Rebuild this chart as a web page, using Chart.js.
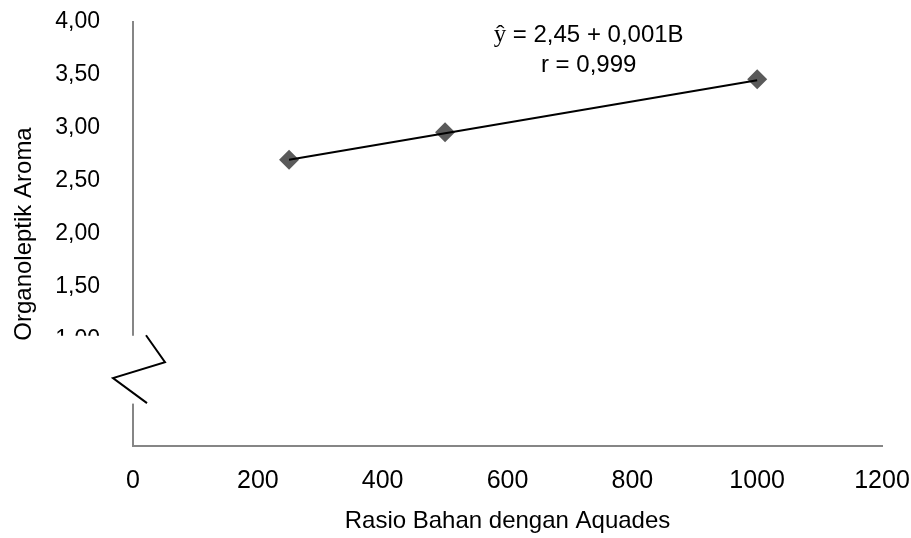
<!DOCTYPE html>
<html>
<head>
<meta charset="utf-8">
<script src="https://cdn.jsdelivr.net/npm/chart.js@4"></script>
<style>
  body { margin: 0; background: #fff; }
  canvas { display: block; }
</style>
</head>
<body>
<canvas id="aromaChart" width="911" height="538"></canvas>
<script>
// ---------- DATA ----------
const ratioValues = [250, 500, 1000];
const aromaValues = [2.70, 2.96, 3.46];
const trendX = [250, 1000];
const trendY = [2.70, 3.45];
const equationText = " = 2,45 + 0,001B";
const rText = "r = 0,999";

const SANS = "'Liberation Sans', Arial, sans-serif";

// white gap + zigzag on the y axis, and the regression label
const breakPlugin = {
  id: "axisBreak",
  afterDraw(chart) {
    const { ctx, chartArea, scales } = chart;
    const y = scales.y, x = scales.x;
    const left = chartArea.left;
    const top = y.getPixelForValue(1.04);
    const bottom = y.getPixelForValue(0.40);

    ctx.save();
    ctx.fillStyle = "#fff";
    ctx.fillRect(45, top, left + 40 - 45, bottom - top);

    ctx.strokeStyle = "#000";
    ctx.lineWidth = 2;
    ctx.beginPath();
    ctx.moveTo(left + 13, y.getPixelForValue(1.045));
    ctx.lineTo(left + 32, y.getPixelForValue(0.79));
    ctx.lineTo(left - 20, y.getPixelForValue(0.64));
    ctx.lineTo(left + 14, y.getPixelForValue(0.405));
    ctx.stroke();

    // equation label
    const cx = x.getPixelForValue(730);
    const y1 = y.getPixelForValue(3.81);
    const y2 = y.getPixelForValue(3.53);
    ctx.fillStyle = "#000";
    ctx.textBaseline = "alphabetic";
    ctx.font = "24px " + SANS;
    const restW = ctx.measureText(equationText).width;
    ctx.font = "25px 'Liberation Serif', serif";
    const hatW = ctx.measureText("ŷ").width;
    const start = cx - (restW + hatW) / 2;
    ctx.textAlign = "left";
    ctx.fillText("ŷ", start, y1);
    ctx.font = "24px " + SANS;
    ctx.fillText(equationText, start + hatW, y1);
    ctx.textAlign = "center";
    ctx.fillText(rText, cx, y2);
    ctx.restore();
  },
};

new Chart(document.getElementById("aromaChart"), {
  type: "scatter",
  data: {
    datasets: [
      {
        label: "Trend",
        data: trendX.map((v, i) => ({ x: v, y: trendY[i] })),
        showLine: true,
        borderColor: "#000",
        borderWidth: 2,
        pointRadius: 0,
        order: 0,
      },
      {
        label: "Aroma",
        data: ratioValues.map((v, i) => ({ x: v, y: aromaValues[i] })),
        pointStyle: "rectRot",
        pointRadius: 10,
        pointBackgroundColor: "#5a5a5a",
        pointBorderWidth: 0,
        order: 1,
      },
    ],
  },
  options: {
    responsive: false,
    animation: false,
    layout: { padding: { top: 22, right: 29, bottom: 0, left: 0 } },
    plugins: { legend: { display: false }, tooltip: { enabled: false } },
    scales: {
      x: {
        type: "linear",
        min: 0,
        max: 1200,
        afterFit: (s) => {
          s.height = 92;
          s.paddingLeft = 0;
          s.paddingRight = 0;
        },
        grid: { color: "transparent", drawTicks: false },
        border: { color: "#868686", width: 2 },
        ticks: {
          stepSize: 200,
          padding: 20,
          color: "#000",
          font: { family: SANS, size: 25 },
          callback: (v) => String(v),
        },
        title: {
          display: true,
          text: "Rasio Bahan dengan Aquades",
          color: "#000",
          font: { family: SANS, size: 24 },
          padding: { top: 0, bottom: 2 },
        },
      },
      y: {
        min: 0,
        max: 4,
        afterFit: (s) => {
          s.width = 133;
          s.paddingTop = 0;
          s.paddingBottom = 0;
        },
        grid: { color: "transparent", drawTicks: false },
        border: { color: "#868686", width: 2 },
        ticks: {
          stepSize: 0.5,
          padding: 33,
          color: "#000",
          font: { family: SANS, size: 23 },
          callback: (v) => (v >= 1 ? v.toFixed(2).replace(".", ",") : ""),
        },
        title: {
          display: true,
          text: "Organoleptik Aroma",
          color: "#000",
          font: { family: SANS, size: 24 },
          padding: { top: 10, bottom: 0 },
        },
      },
    },
  },
  plugins: [breakPlugin],
});
</script>
</body>
</html>
